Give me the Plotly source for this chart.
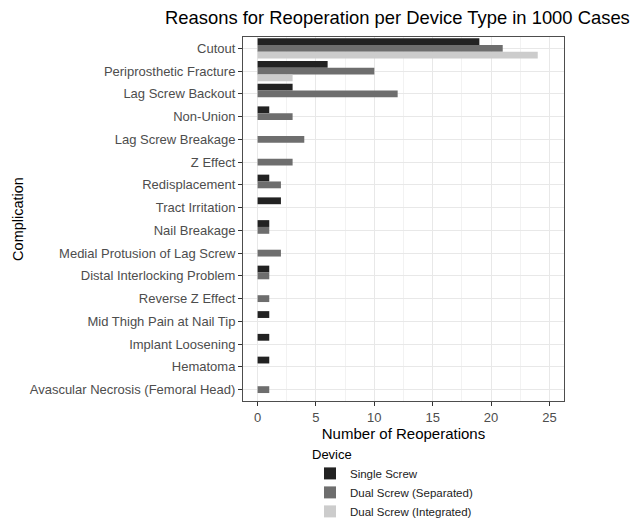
import plotly.graph_objects as go

categories = ["Cutout", "Periprosthetic Fracture", "Lag Screw Backout", "Non-Union",
              "Lag Screw Breakage", "Z Effect", "Redisplacement", "Tract Irritation",
              "Nail Breakage", "Medial Protusion of Lag Screw", "Distal Interlocking Problem",
              "Reverse Z Effect", "Mid Thigh Pain at Nail Tip", "Implant Loosening",
              "Hematoma", "Avascular Necrosis (Femoral Head)"]
single_screw = [19, 6, 3, 1, None, None, 1, 2, 1, None, 1, None, 1, 1, 1, None]
dual_separated = [21, 10, 12, 3, 4, 3, 2, None, 1, 2, 1, 1, None, None, None, 1]
dual_integrated = [24, 3, None, None, None, None, None, None, None, None, None, None, None, None, None, None]
series_names = ["Single Screw", "Dual Screw (Separated)", "Dual Screw (Integrated)"]
series_colors = ["#222222", "#6e6e6e", "#cccccc"]
x_ticks = [0, 5, 10, 15, 20, 25]

FONT = "Liberation Sans, Arial, sans-serif"
W, H = 635, 512  # page body has an 8px margin
L, R, T, B = 235, 79, 29, 119

fig = go.Figure()
for name, vals, col in zip(series_names, [single_screw, dual_separated, dual_integrated], series_colors):
    fig.add_trace(go.Bar(y=categories, x=vals, name=name, orientation="h",
                         marker=dict(color=col, line=dict(width=0))))

fig.update_layout(
    width=W, height=H,
    barmode="group", bargap=0.1, bargroupgap=0,
    paper_bgcolor="white", plot_bgcolor="white",
    margin=dict(l=L, r=R, t=T, b=B, autoexpand=False),
    font=dict(family=FONT, color="#4d4d4d", size=13),
    title=dict(text="Reasons for Reoperation per Device Type in 1000 Cases",
               x=157/W, xanchor="left", y=1-10/H, yanchor="middle",
               font=dict(size=18.4, color="black", family=FONT)),
    xaxis=dict(range=[-1.25, 26.25], tickvals=x_ticks, showgrid=True, gridcolor="#e8e8e8",
               gridwidth=1, zeroline=False, ticks="outside", ticklen=4, tickcolor="#333333",
               tickfont=dict(size=13, color="#4d4d4d"),
               minor=dict(dtick=2.5, showgrid=True, gridcolor="#f2f2f2", gridwidth=1),
               showline=True, linecolor="#4d4d4d", mirror=True, linewidth=1,
               title=dict(text="Number of Reoperations", font=dict(size=15, color="black"), standoff=0)),
    yaxis=dict(categoryorder="array", categoryarray=categories, autorange="reversed",
               showgrid=True, gridcolor="#e8e8e8", ticks="outside", ticklen=4, tickcolor="#333333",
               tickfont=dict(size=13, color="#4d4d4d"),
               showline=True, linecolor="#4d4d4d", mirror=True, linewidth=1,
               title=dict(text="Complication", font=dict(size=14.5, color="black"), standoff=2)),
    legend=dict(xref="paper", x=(302 - L)/(W - L - R), xanchor="left",
                yref="container", y=1 - 434/H, yanchor="top",
                title=dict(text="Device", font=dict(size=13, color="black")),
                font=dict(size=11.5, color="#222222"), itemwidth=30, tracegroupgap=0,
                bgcolor="rgba(0,0,0,0)"),
)

fig.write_html("out.html")
